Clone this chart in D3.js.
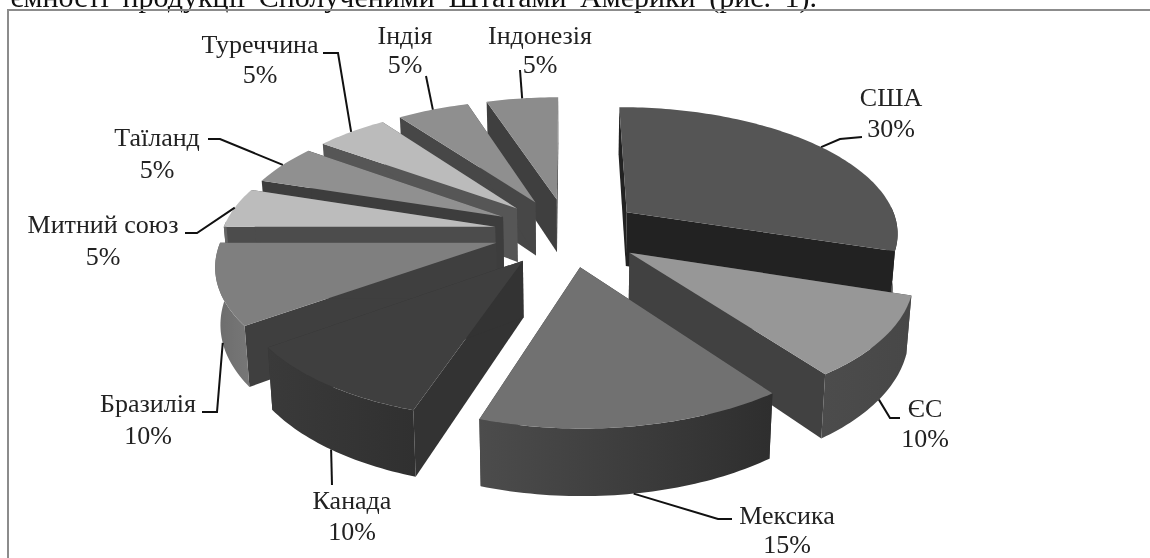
<!DOCTYPE html>
<html lang="uk">
<head>
<meta charset="utf-8">
<script src="https://cdn.jsdelivr.net/npm/d3@7"></script>
<style>
  body { margin: 0; background: #fff; }
  text { font-family: "Liberation Serif", serif; fill: #222; }
</style>
</head>
<body>
<div id="app"></div>
<script>
const names = ['США', 'ЄС', 'Мексика', 'Канада', 'Бразилія', 'Митний союз', 'Таїланд', 'Туреччина', 'Індія', 'Індонезія'];
const shares = [30, 10, 15, 10, 10, 5, 5, 5, 5, 5];

const topColors = ['#555555', '#979797', '#717171', '#3f3f3f', '#7f7f7f', '#bcbcbc', '#909090', '#bbbbbb', '#8f8f8f', '#8c8c8c'];
const wallColors = ['#222222', '#414141', '#333333', '#333333', '#3f3f3f', '#4c4c4c', '#3d3d3d', '#565656', '#474747', '#3f3f3f'];
const rimLeft = ['#222222', '#4c4c4c', '#4c4c4c', '#3a3a3a', '#6c6c6c', '#666666', '#555555', '#666666', '#555555', '#555555'];
const rimRight = ['#222222', '#474747', '#2e2e2e', '#303030', '#777777', '#666666', '#555555', '#666666', '#555555', '#555555'];

// label layout: centre x, baselines of both lines, leader points after the rim
const labelX = [891, 925, 787, 352, 148, 103, 157, 260, 405, 540];
const labelY = [[106, 137], [417, 447], [524, 553], [509, 540], [412, 444], [233, 265], [146, 178], [53, 83], [44, 73], [44, 73]];
const elbows = [
  [[840, 139], [862, 137]],
  [[890, 418], [900, 418]],
  [[718, 519], [732, 519]],
  [[332, 485]],
  [[217, 412], [202, 412]],
  [[197, 233], [185, 233]],
  [[220, 139], [208, 139]],
  [[338, 53], [323, 53]],
  [[426, 76]],
  [[520, 70]]
];

const width = 1150, height = 558;
const explode = 0.272;   // share of the radius
const tilt = 0.147;      // perspective strength
const depth = 55;        // wall height at the pie plane, px
const bottomShrink = 0.985;

const x = d3.scaleLinear().domain([-1, 1]).range([568 - 273, 568 + 273]);
const y = d3.scaleLinear().domain([-1, 1]).range([232 + 126, 232 - 126]);

const svg = d3.select('#app').append('svg')
  .attr('width', width)
  .attr('height', height)
  .style('display', 'block')
  .style('filter', 'blur(0.4px)');

const defs = svg.append('defs');

// text line cut off by the picture's top edge
svg.append('text')
  .attr('x', 817)
  .attr('y', 7)
  .attr('text-anchor', 'end')
  .style('font-size', '30px')
  .style('word-spacing', '6px')
  .style('fill', '#111')
  .text('ємності продукції Сполученими Штатами Америки (рис. 1).');

svg.append('path')
  .attr('d', `M8,${height}V10H${width}`)
  .attr('fill', 'none')
  .attr('stroke', '#8c8c8c')
  .attr('stroke-width', 2);

const arcs = d3.pie().sort(null).value(d => d)(shares);

// a point of the top face: angle from the top, clockwise, radius 0..1, shifted along the mid angle
function project(d, angle, r, bottom) {
  const mid = (d.startAngle + d.endAngle) / 2;
  const u = r * Math.sin(angle) + explode * Math.sin(mid);
  const v = r * Math.cos(angle) + explode * Math.cos(mid);
  const w = 1 + tilt * v;
  const px = x(u / w), py = y(v / w);
  if (!bottom) return [px, py];
  return [x(0) + (px - x(0)) * bottomShrink, py + depth / w];
}

function rimAngles(d) {
  const n = Math.ceil((d.endAngle - d.startAngle) / 0.02);
  return d3.range(n + 1).map(i => d.startAngle + (d.endAngle - d.startAngle) * i / n);
}

const line = d3.line();

// back slices first
const order = d3.range(arcs.length).sort((a, b) =>
  d3.descending(Math.cos((arcs[a].startAngle + arcs[a].endAngle) / 2), Math.cos((arcs[b].startAngle + arcs[b].endAngle) / 2)));

const slices = svg.selectAll('.slice')
  .data(order)
  .enter()
  .append('g')
  .attr('class', 'slice');

slices.each(function(i) {
  const g = d3.select(this), d = arcs[i];
  const angles = rimAngles(d);
  const gradId = 'rim' + i;

  const grad = defs.append('linearGradient').attr('id', gradId);
  grad.append('stop').attr('offset', 0).attr('stop-color', rimLeft[i]);
  grad.append('stop').attr('offset', 1).attr('stop-color', rimRight[i]);

  [d.startAngle, d.endAngle].forEach(a => {
    g.append('path')
      .attr('d', line([project(d, a, 0), project(d, a, 1), project(d, a, 1, true), project(d, a, 0, true)]) + 'Z')
      .attr('fill', wallColors[i]);
  });

  const rimTop = angles.map(a => project(d, a, 1));

  // the outer wall shows only on the front half
  const front = angles.filter(a => Math.cos(a) <= 0.05);
  if (front.length > 1) {
    const frontTop = front.map(a => project(d, a, 1));
    const frontBottom = front.map(a => project(d, a, 1, true)).reverse();
    g.append('path')
      .attr('d', line(frontTop.concat(frontBottom)) + 'Z')
      .attr('fill', `url(#${gradId})`);
  }

  g.append('path')
    .attr('d', line([project(d, d.startAngle, 0)].concat(rimTop)) + 'Z')
    .attr('fill', topColors[i]);
});

// leader lines start on the rim at the middle of each slice
svg.selectAll('.leader')
  .data(arcs)
  .enter()
  .append('path')
  .attr('class', 'leader')
  .attr('fill', 'none')
  .attr('stroke', '#111')
  .attr('stroke-width', 2)
  .attr('d', (d, i) => {
    const mid = (d.startAngle + d.endAngle) / 2;
    return line([project(d, mid, 1, Math.cos(mid) < 0)].concat(elbows[i]));
  });

const labels = svg.selectAll('.label')
  .data(arcs)
  .enter()
  .append('g')
  .attr('class', 'label')
  .attr('text-anchor', 'middle')
  .style('font-size', '26px');

labels.append('text')
  .attr('x', (d, i) => labelX[i])
  .attr('y', (d, i) => labelY[i][0])
  .text((d, i) => names[i]);

labels.append('text')
  .attr('x', (d, i) => labelX[i])
  .attr('y', (d, i) => labelY[i][1])
  .text(d => d.value + '%');
</script>
</body>
</html>
